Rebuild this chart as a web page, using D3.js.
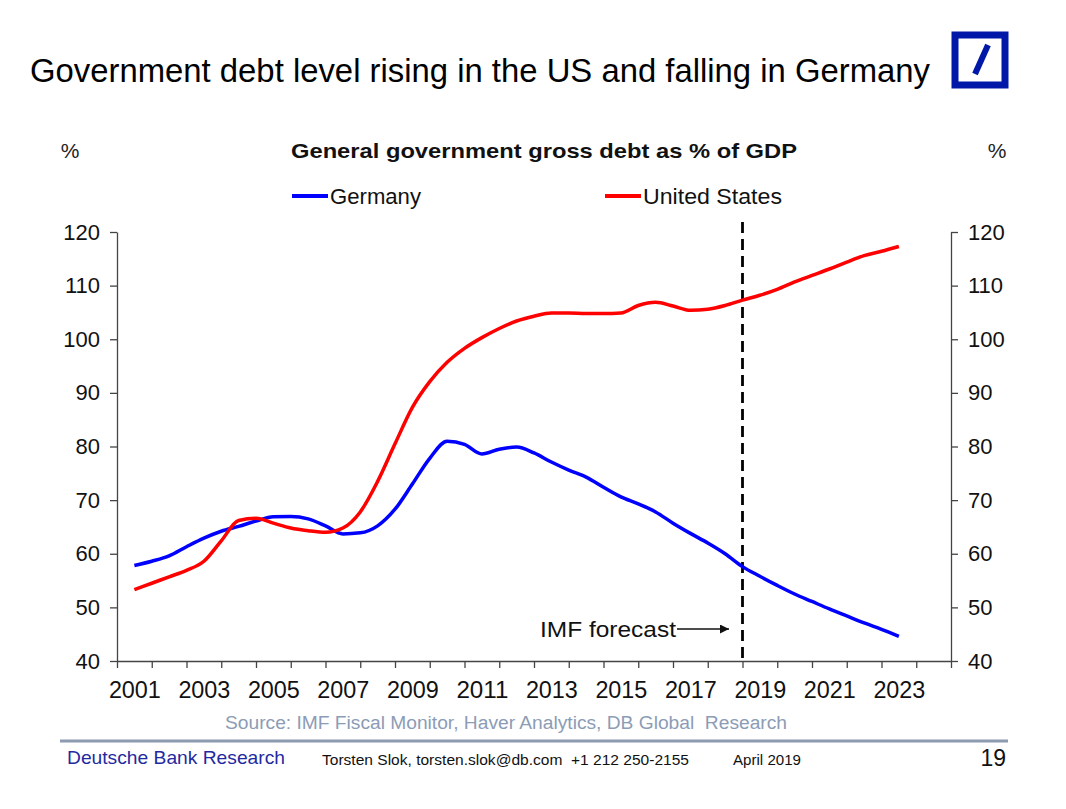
<!DOCTYPE html>
<html>
<head>
<meta charset="utf-8">
<script src="https://cdn.jsdelivr.net/npm/d3@7"></script>
<style>
  html, body { margin: 0; padding: 0; background: #fff; }
  svg { display: block; font-family: "Liberation Sans", Arial, sans-serif; }
</style>
</head>
<body>
<svg id="chart" width="1066" height="809"></svg>
<script>
// ---- Data (half-year steps) ----
const years = [
  2001, 2001.5, 2002, 2002.5, 2003, 2003.5, 2004, 2004.5, 2005, 2005.5,
  2006, 2006.5, 2007, 2007.5, 2008, 2008.5, 2009, 2009.5, 2010, 2010.5,
  2011, 2011.5, 2012, 2012.5, 2013, 2013.5, 2014, 2014.5, 2015, 2015.5,
  2016, 2016.5, 2017, 2017.5, 2018, 2018.5, 2019, 2019.5, 2020, 2020.5,
  2021, 2021.5, 2022, 2022.5, 2023
];
const germany = [
  57.8, 58.6, 59.6, 61.3, 62.9, 64.2, 65.1, 66.1, 66.9, 66.95,
  66.5, 65.2, 63.7, 63.9, 65.2, 68.3, 73.0, 77.8, 81.0, 80.4,
  78.6, 79.5, 79.9, 78.8, 77.1, 75.6, 74.3, 72.4, 70.6, 69.3,
  67.8, 65.7, 63.8, 62.0, 60.0, 57.6, 55.8, 54.1, 52.5, 51.1,
  49.7, 48.4, 47.1, 45.9, 44.6
];
const unitedStates = [
  53.3, 54.5, 55.7, 56.9, 58.6, 62.4, 66.2, 66.6, 65.7, 64.8,
  64.3, 64.0, 64.8, 67.8, 73.5, 80.5, 87.3, 92.1, 95.7, 98.3,
  100.3, 102.0, 103.4, 104.3, 104.9, 104.9, 104.8, 104.8, 104.9, 106.3,
  106.9, 106.2, 105.4, 105.6, 106.3, 107.3, 108.2, 109.3, 110.7, 111.9,
  113.1, 114.4, 115.6, 116.4, 117.3
];
const seriesNames = ["Germany", "United States"];
const yTicks = [40, 50, 60, 70, 80, 90, 100, 110, 120];
const xLabelYears = [2001, 2003, 2005, 2007, 2009, 2011, 2013, 2015, 2017, 2019, 2021, 2023];
const forecastStart = 2018.5;

// ---- Layout ----
const svg = d3.select("#chart");
const plotLeft = 117, plotRight = 951, plotTop = 232, plotBottom = 661;
const blue = "#0000ff", red = "#ff0000";

const x = d3.scaleLinear().domain([2000.5, 2024.5]).range([plotLeft, plotRight]);
const y = d3.scaleLinear().domain([40, 120]).range([plotBottom, plotTop]);

// Title
svg.append("text").attr("x", 30).attr("y", 82)
  .attr("font-size", 33).attr("fill", "#000")
  .attr("textLength", 900).attr("lengthAdjust", "spacingAndGlyphs")
  .text("Government debt level rising in the US and falling in Germany");

// Logo
svg.append("rect").attr("x", 955).attr("y", 35).attr("width", 50).attr("height", 50)
  .attr("fill", "none").attr("stroke", "#0018a8").attr("stroke-width", 7);
svg.append("line").attr("x1", 988).attr("y1", 45).attr("x2", 975).attr("y2", 74)
  .attr("stroke", "#0018a8").attr("stroke-width", 6);

// Subtitle and unit labels
svg.append("text").attr("x", 291).attr("y", 158)
  .attr("font-size", 21).attr("font-weight", "bold").attr("fill", "#111")
  .attr("textLength", 506).attr("lengthAdjust", "spacingAndGlyphs")
  .text("General government gross debt as % of GDP");
svg.append("text").attr("x", 70).attr("y", 158).attr("text-anchor", "middle")
  .attr("font-size", 21).attr("fill", "#222").text("%");
svg.append("text").attr("x", 997).attr("y", 158).attr("text-anchor", "middle")
  .attr("font-size", 21).attr("fill", "#222").text("%");

// Legend
const legendItems = [
  {name: seriesNames[0], color: blue, x: 292, w: 91},
  {name: seriesNames[1], color: red, x: 605, w: 139}
];
legendItems.forEach(d => {
  svg.append("line").attr("x1", d.x).attr("x2", d.x + 36).attr("y1", 196).attr("y2", 196)
    .attr("stroke", d.color).attr("stroke-width", 4);
  svg.append("text").attr("x", d.x + 38).attr("y", 204).attr("font-size", 22)
    .attr("fill", "#111").attr("textLength", d.w).attr("lengthAdjust", "spacingAndGlyphs")
    .text(d.name);
});

// Axes
const axisColor = "#444";
function styleAxis(g, fs) {
  g.selectAll("path").attr("stroke", axisColor).attr("stroke-width", 1.3);
  g.selectAll("line").attr("stroke", axisColor).attr("stroke-width", 1.3);
  g.selectAll("text").attr("font-size", fs).attr("fill", "#111")
    .attr("font-family", "'Liberation Sans', Arial, sans-serif");
}
const gl = svg.append("g").attr("transform", `translate(${plotLeft},0)`)
  .call(d3.axisLeft(y).tickValues(yTicks).tickSize(7).tickSizeOuter(0).tickPadding(10));
styleAxis(gl, 22);
const gr = svg.append("g").attr("transform", `translate(${plotRight},0)`)
  .call(d3.axisRight(y).tickValues(yTicks).tickSize(7).tickSizeOuter(0).tickPadding(10));
styleAxis(gr, 22);

const boundaries = d3.range(2000.5, 2024.6, 1);
const gb = svg.append("g").attr("transform", `translate(0,${plotBottom})`)
  .call(d3.axisBottom(x).tickValues(boundaries).tickSize(7).tickSizeOuter(0).tickFormat(""));
styleAxis(gb, 22);
const gbl = svg.append("g").attr("transform", `translate(0,${plotBottom})`)
  .call(d3.axisBottom(x).tickValues(xLabelYears).tickSize(0).tickPadding(21).tickFormat(d3.format("d")));
gbl.select("path").remove();
styleAxis(gbl, 23);
gbl.selectAll("text").attr("textLength", 52).attr("lengthAdjust", "spacingAndGlyphs");

// Forecast dashed line
svg.append("line").attr("x1", x(forecastStart)).attr("x2", x(forecastStart))
  .attr("y1", 222).attr("y2", plotBottom)
  .attr("stroke", "#000").attr("stroke-width", 2.8).attr("stroke-dasharray", "11,6");

// Series lines
const line = d3.line().x((d, i) => x(years[i])).y(d => y(d)).curve(d3.curveMonotoneX);
svg.append("path").datum(germany).attr("d", line)
  .attr("fill", "none").attr("stroke", blue).attr("stroke-width", 3.5).attr("stroke-linejoin", "round");
svg.append("path").datum(unitedStates).attr("d", line)
  .attr("fill", "none").attr("stroke", red).attr("stroke-width", 3.5).attr("stroke-linejoin", "round");

// IMF forecast annotation
svg.append("text").attr("x", 540).attr("y", 637)
  .attr("font-size", 22).attr("fill", "#111")
  .attr("textLength", 136).attr("lengthAdjust", "spacingAndGlyphs")
  .text("IMF forecast");
svg.append("defs").append("marker").attr("id", "arr").attr("viewBox", "0 0 10 10")
  .attr("refX", 10).attr("refY", 5).attr("markerWidth", 9).attr("markerHeight", 9)
  .attr("markerUnits", "userSpaceOnUse").attr("orient", "auto")
  .append("path").attr("d", "M0,0 L10,5 L0,10 Z").attr("fill", "#111");
svg.append("line").attr("x1", 677).attr("x2", 729).attr("y1", 629).attr("y2", 629)
  .attr("stroke", "#111").attr("stroke-width", 1.3).attr("marker-end", "url(#arr)");

// Source
svg.append("text").attr("x", 225).attr("y", 729)
  .attr("font-size", 18).attr("fill", "#8c9cb6")
  .attr("textLength", 562).attr("lengthAdjust", "spacingAndGlyphs")
  .style("white-space", "pre")
  .text("Source: IMF Fiscal Monitor, Haver Analytics, DB Global  Research");

// Footer
svg.append("line").attr("x1", 60).attr("x2", 1008).attr("y1", 741).attr("y2", 741)
  .attr("stroke", "#8d9ab0").attr("stroke-width", 3);
svg.append("text").attr("x", 67).attr("y", 764).attr("font-size", 19).attr("fill", "#1f2aa0")
  .attr("textLength", 218).attr("lengthAdjust", "spacingAndGlyphs")
  .text("Deutsche Bank Research");
svg.append("text").attr("x", 322).attr("y", 765).attr("font-size", 15.5).attr("fill", "#111")
  .attr("textLength", 367).attr("lengthAdjust", "spacingAndGlyphs")
  .style("white-space", "pre")
  .text("Torsten Slok, torsten.slok@db.com  +1 212 250-2155");
svg.append("text").attr("x", 733).attr("y", 765).attr("font-size", 15).attr("fill", "#111")
  .attr("textLength", 68).attr("lengthAdjust", "spacingAndGlyphs")
  .text("April 2019");
svg.append("text").attr("x", 1006).attr("y", 766).attr("text-anchor", "end")
  .attr("font-size", 23).attr("fill", "#111").text("19");
</script>
</body>
</html>
